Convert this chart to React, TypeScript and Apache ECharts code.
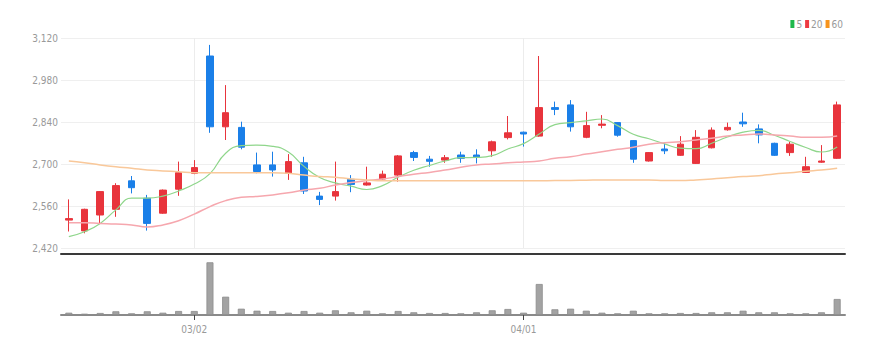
import React, { useEffect, useRef } from "react";
import * as echarts from "echarts";

const dates = [
  "02/18", "02/19", "02/20", "02/23", "02/24", "02/25", "02/26", "02/27",
  "03/02", "03/04", "03/05", "03/06", "03/09", "03/10", "03/11", "03/12",
  "03/13", "03/16", "03/17", "03/18", "03/19", "03/20", "03/23", "03/24",
  "03/25", "03/26", "03/27", "03/30", "03/31", "04/01", "04/02", "04/03",
  "04/06", "04/07", "04/08", "04/09", "04/10", "04/13", "04/14", "04/15",
  "04/16", "04/17", "04/20", "04/21", "04/22", "04/23", "04/24", "04/27",
  "04/28", "04/29",
];

const tickLabels = ["03/02", "04/01"];

// [open, close, low, high]
const ohlc: number[][] = [
  [2513, 2518, 2475, 2582],
  [2477, 2549, 2469, 2551],
  [2530, 2608, 2502, 2610],
  [2549, 2628, 2524, 2636],
  [2644, 2621, 2602, 2660],
  [2586, 2502, 2478, 2597],
  [2536, 2613, 2534, 2615],
  [2616, 2671, 2594, 2708],
  [2669, 2688, 2666, 2713],
  [3060, 2824, 2804, 3097],
  [2824, 2871, 2780, 2963],
  [2822, 2756, 2749, 2841],
  [2697, 2675, 2669, 2738],
  [2697, 2680, 2658, 2741],
  [2669, 2708, 2647, 2733],
  [2704, 2610, 2600, 2724],
  [2593, 2582, 2563, 2607],
  [2593, 2608, 2578, 2708],
  [2649, 2632, 2606, 2663],
  [2630, 2637, 2628, 2691],
  [2650, 2666, 2647, 2678],
  [2663, 2727, 2641, 2730],
  [2738, 2722, 2710, 2744],
  [2716, 2709, 2691, 2727],
  [2713, 2721, 2704, 2730],
  [2730, 2719, 2704, 2741],
  [2730, 2722, 2702, 2749],
  [2744, 2774, 2724, 2778],
  [2788, 2804, 2782, 2860],
  [2806, 2800, 2758, 2808],
  [2793, 2888, 2791, 3060],
  [2888, 2882, 2863, 2908],
  [2897, 2824, 2808, 2913],
  [2789, 2828, 2786, 2874],
  [2829, 2833, 2819, 2863],
  [2838, 2796, 2791, 2840],
  [2778, 2716, 2704, 2780],
  [2710, 2738, 2708, 2740],
  [2750, 2744, 2733, 2769],
  [2729, 2766, 2727, 2793],
  [2702, 2789, 2700, 2813],
  [2754, 2813, 2752, 2822],
  [2814, 2822, 2811, 2838],
  [2840, 2834, 2824, 2871],
  [2817, 2797, 2769, 2832],
  [2769, 2729, 2727, 2771],
  [2738, 2766, 2727, 2774],
  [2672, 2691, 2671, 2724],
  [2706, 2710, 2704, 2763],
  [2719, 2897, 2717, 2908],
];

const ma5 = [
  2458, 2474, 2502, 2547, 2586, 2586, 2593, 2610, 2633, 2668, 2736, 2761,
  2763, 2759, 2740, 2692, 2655, 2637, 2626, 2615, 2628, 2656, 2679, 2695,
  2710, 2721, 2722, 2728, 2750, 2768, 2800, 2831, 2838, 2844, 2850, 2828,
  2799, 2784, 2767, 2753, 2751, 2769, 2790, 2806, 2812, 2796, 2775, 2755,
  2740, 2757,
];

const ma20 = [
  2504, 2504, 2502, 2500, 2497, 2490, 2497, 2511, 2533, 2558, 2578, 2589,
  2592, 2597, 2604, 2613, 2619, 2630, 2638, 2644, 2650, 2658, 2666, 2672,
  2680, 2689, 2697, 2700, 2704, 2707, 2710, 2719, 2724, 2733, 2741, 2749,
  2756, 2766, 2771, 2774, 2780, 2786, 2793, 2797, 2800, 2797, 2793, 2789,
  2789, 2793,
];

const ma60 = [
  2710, 2704, 2697, 2691, 2686, 2680, 2677, 2674, 2671, 2671, 2671, 2671,
  2671, 2671, 2669, 2663, 2658, 2656, 2650, 2647, 2644, 2644, 2644, 2644,
  2644, 2644, 2644, 2644, 2644, 2644, 2644, 2645, 2645, 2646, 2647, 2647,
  2647, 2647, 2645, 2645, 2647, 2650, 2654, 2658, 2661, 2667, 2671, 2676,
  2680, 2686,
];

const volumes = [
  230000, 130000, 200000, 370000, 170000, 370000, 230000, 400000, 400000,
  5270000, 1830000, 630000, 430000, 400000, 230000, 400000, 230000, 470000,
  270000, 430000, 170000, 400000, 270000, 200000, 200000, 170000, 270000,
  470000, 600000, 230000, 3100000, 570000, 630000, 430000, 230000, 170000,
  430000, 170000, 170000, 200000, 200000, 270000, 270000, 430000, 270000,
  270000, 170000, 170000, 270000, 1600000,
];

const maNames = ["5", "20", "60"];

const FONT = "'Liberation Sans Narrow', 'DejaVu Sans Condensed', 'Roboto', sans-serif";
const UP = "#e8343c";
const DOWN = "#1a7fe8";

export default function App() {
  const ref = useRef<HTMLDivElement>(null);

  useEffect(() => {
    document.body.style.margin = "0";
    if (!ref.current) return;
    const chart = echarts.init(ref.current, undefined, { renderer: "svg" });
    const isTick = (_i: number, v: string) => tickLabels.indexOf(v) >= 0;
    chart.setOption({
      animation: false,
      textStyle: { fontFamily: FONT },
      legend: {
        top: 19,
        right: 42,
        icon: "rect",
        itemWidth: 4,
        itemHeight: 8,
        itemGap: 3,
        padding: 0,
        textStyle: { fontSize: 10, color: "#999", fontFamily: FONT, padding: [0, 0, 0, -3] },
        data: [
          { name: maNames[0], itemStyle: { color: "#1fb84a" } },
          { name: maNames[1], itemStyle: { color: "#ee3942" } },
          { name: maNames[2], itemStyle: { color: "#f7941d" } },
        ],
      },
      grid: [
        { left: 61, right: 40, top: 38, height: 210 },
        { left: 61, right: 40, top: 262, height: 53 },
      ],
      xAxis: [
        {
          type: "category",
          gridIndex: 0,
          data: dates,
          offset: 6,
          axisLine: { show: true, lineStyle: { color: "#3a3a3a", width: 2 } },
          axisTick: { show: false },
          axisLabel: { show: false },
          splitLine: { show: false },
        },
        {
          type: "category",
          gridIndex: 1,
          data: dates,
          axisLine: { show: true, lineStyle: { color: "#8a8a8a", width: 2 } },
          axisTick: { show: true, interval: isTick, alignWithLabel: true, length: 5, lineStyle: { color: "#444" } },
          axisLabel: { show: true, interval: isTick, color: "#999", fontSize: 10, margin: 9, fontFamily: FONT },
          splitLine: { show: false },
        },
      ],
      yAxis: [
        {
          type: "value",
          gridIndex: 0,
          min: 2420,
          max: 3120,
          interval: 140,
          axisLine: { show: false },
          axisTick: { show: false },
          axisLabel: {
            color: "#999",
            fontSize: 10,
            margin: 3,
            fontFamily: FONT,
            formatter: (v: number) => v.toLocaleString("en-US"),
          },
          splitLine: { lineStyle: { color: "#efefef" } },
        },
        {
          type: "value",
          gridIndex: 1,
          min: 0,
          max: 5300000,
          show: false,
          splitLine: { show: false },
        },
      ],
      series: [
        {
          type: "line",
          xAxisIndex: 0,
          yAxisIndex: 0,
          data: [],
          z: 1,
          silent: true,
          markLine: {
            silent: true,
            z: 1,
            symbol: ["none", "none"],
            label: { show: false },
            lineStyle: { color: "#ececec", type: "solid", width: 1 },
            data: tickLabels.map((t) => ({ xAxis: t })),
          },
        },
        {
          type: "candlestick",
          xAxisIndex: 0,
          yAxisIndex: 0,
          data: ohlc,
          barWidth: 7,
          z: 2,
          itemStyle: {
            color: UP,
            color0: DOWN,
            borderColor: UP,
            borderColor0: DOWN,
            borderWidth: 1,
          },
        },
        {
          name: maNames[0],
          type: "line",
          data: ma5,
          smooth: true,
          showSymbol: false,
          symbol: "none",
          itemStyle: { color: "#1fb84a" },
          lineStyle: { color: "#8fd68b", width: 1.2 },
          z: 3,
        },
        {
          name: maNames[1],
          type: "line",
          data: ma20,
          smooth: true,
          showSymbol: false,
          symbol: "none",
          itemStyle: { color: "#ee3942" },
          lineStyle: { color: "#f6a7ae", width: 1.5 },
          z: 3,
        },
        {
          name: maNames[2],
          type: "line",
          data: ma60,
          smooth: true,
          showSymbol: false,
          symbol: "none",
          itemStyle: { color: "#f7941d" },
          lineStyle: { color: "#f9c89a", width: 1.5 },
          z: 3,
        },
        {
          type: "bar",
          xAxisIndex: 1,
          yAxisIndex: 1,
          data: volumes,
          barWidth: 7,
          itemStyle: { color: "#a3a3a3", borderColor: "#8c8c8c", borderWidth: 0.8 },
        },
      ],
    });
    return () => chart.dispose();
  }, []);

  return <div ref={ref} style={{ width: 885, height: 354 }} />;
}
